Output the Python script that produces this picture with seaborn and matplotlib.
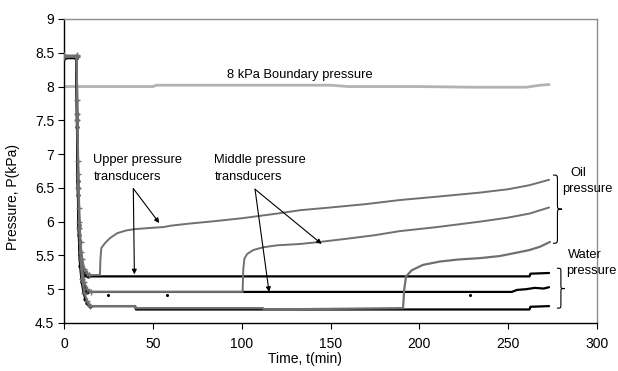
import matplotlib
matplotlib.use("Agg")
import matplotlib.pyplot as plt
import seaborn as sns
from matplotlib import font_manager
from matplotlib.path import Path
from matplotlib.patches import PathPatch

# ---------------- data (time in min, pressure in kPa) ----------------
boundary_t = [0, 50, 52, 100, 150, 160, 200, 230, 260, 268, 273]
boundary_p = [8.0, 8.0, 8.02, 8.02, 8.02, 8.0, 8.0, 7.99, 7.99, 8.02, 8.03]

upper_water_t = [0, 7.0, 7.3, 7.8, 8.3, 9.0, 10.0, 11.0, 12.0, 13.5, 262, 262.5, 273]
upper_water_p = [8.44, 8.44, 7.6, 6.6, 5.95, 5.5, 5.33, 5.25, 5.21, 5.19, 5.19, 5.23, 5.24]

middle_water_t = [0, 7.0, 7.3, 7.8, 8.3, 9, 10, 11, 12, 13, 252, 255, 260, 265, 270, 273]
middle_water_p = [8.43, 8.43, 7.5, 6.5, 5.9, 5.45, 5.2, 5.05, 4.98, 4.96, 4.96, 4.99, 5.0, 5.02, 5.01, 5.03]

lower_water_t = [0, 7.0, 7.3, 7.8, 8.3, 9, 10, 11, 12, 13, 14.5, 40, 40.5, 262, 262.5, 273]
lower_water_p = [8.42, 8.42, 7.4, 6.4, 5.8, 5.35, 5.1, 4.95, 4.85, 4.79, 4.75, 4.75, 4.70, 4.70, 4.74, 4.75]

upper_oil_t = [0, 7.1, 7.5, 8.0, 8.6, 9.3, 10.2, 11.5, 13, 14, 20.2, 20.5, 21, 23, 26, 30, 35,
               40, 50, 56, 60, 70, 82, 100, 120, 133, 150, 170, 189, 210, 234, 250, 262, 273]
upper_oil_p = [8.46, 8.46, 7.8, 6.9, 6.2, 5.7, 5.45, 5.3, 5.24, 5.21, 5.21, 5.45, 5.61, 5.68, 5.76,
               5.83, 5.87, 5.89, 5.91, 5.92, 5.94, 5.97, 6.0, 6.05, 6.12, 6.17, 6.21, 6.26, 6.32,
               6.37, 6.43, 6.48, 6.54, 6.62]

middle_oil_t = [0, 7.1, 7.5, 8.0, 8.6, 9.3, 10.2, 11.5, 13, 15, 100.5, 100.9, 101.5, 103, 106.5,
                112, 120, 133, 144, 160, 175, 189, 210, 234, 250, 262, 273]
middle_oil_p = [8.45, 8.45, 7.6, 6.7, 6.0, 5.55, 5.3, 5.1, 5.0, 4.96, 4.96, 5.3, 5.45, 5.52, 5.58,
                5.62, 5.65, 5.67, 5.70, 5.75, 5.80, 5.86, 5.92, 6.0, 6.06, 6.12, 6.21]

lower_oil_t = [0, 7.1, 7.5, 8, 8.6, 9.3, 10.2, 11.5, 13, 14.6, 40, 40.5, 112, 112.5, 190.8, 191.5,
               192.5, 195.7, 202, 211.6, 222, 234, 245, 252.7, 262, 268, 273.5]
lower_oil_p = [8.44, 8.44, 7.5, 6.5, 5.9, 5.45, 5.15, 4.95, 4.82, 4.75, 4.75, 4.72, 4.72, 4.70,
               4.72, 5.0, 5.19, 5.28, 5.36, 5.41, 5.44, 5.46, 5.49, 5.53, 5.58, 5.63, 5.70]

# isolated spikes in the logged readings
spike_t = [24.5, 58, 228.5]
spike_p = [4.92, 4.92, 4.91]

x_ticks = [0, 50, 100, 150, 200, 250, 300]
y_ticks = [4.5, 5, 5.5, 6, 6.5, 7, 7.5, 8, 8.5, 9]
y_tick_labels = ["4.5", "5", "5.5", "6", "6.5", "7", "7.5", "8", "8.5", "9"]

WATER = "#000000"
OIL = "#707070"
BOUND = "#b2b2b2"

# ---------------- style ----------------
sns.set_style("white")
plt.rcParams["font.family"] = ["Liberation Sans", "DejaVu Sans"]
plt.rcParams["text.color"] = "black"
plt.rcParams["axes.labelcolor"] = "black"

names = {f.name for f in font_manager.fontManager.ttflist}
narrow = "Liberation Sans Narrow" in names
tick_font = "Liberation Sans Narrow" if narrow else "Liberation Sans"
tick_size = 11.5 if narrow else 10

fig = plt.figure(figsize=(6.18, 3.71), dpi=100)
ax = fig.add_axes([0.1036, 0.1294, 0.8625, 0.8194])


def series(t, p, color, lw, marker, ms, n_mark, z):
    sns.lineplot(x=t, y=p, ax=ax, color=color, linewidth=lw, estimator=None, sort=False,
                 marker=marker, markersize=ms, markevery=slice(0, n_mark),
                 markeredgecolor=color, markerfacecolor=color, markeredgewidth=1.0,
                 zorder=z)


series(boundary_t, boundary_p, BOUND, 2.0, None, 0, 0, 2)
series(upper_water_t, upper_water_p, WATER, 1.6, ".", 4, 10, 3)
series(middle_water_t, middle_water_p, WATER, 1.6, ".", 4, 10, 3)
series(lower_water_t, lower_water_p, WATER, 1.6, ".", 4, 11, 3)
series(upper_oil_t, upper_oil_p, OIL, 1.4, "+", 5, 10, 4)
series(middle_oil_t, middle_oil_p, OIL, 1.4, "+", 5, 10, 4)
series(lower_oil_t, lower_oil_p, OIL, 1.6, "+", 5, 10, 4)
sns.scatterplot(x=spike_t, y=spike_p, ax=ax, color=WATER, s=5, linewidth=0, zorder=5)

# ---------------- axes ----------------
ax.set_xlim(0, 300)
ax.set_ylim(4.5, 9)
ax.set_xticks(x_ticks)
ax.set_yticks(y_ticks, labels=y_tick_labels)
for lab in ax.get_xticklabels() + ax.get_yticklabels():
    lab.set_fontfamily(tick_font)
    lab.set_fontsize(tick_size)
ax.tick_params(axis="both", which="both", bottom=True, left=True, direction="out",
               length=4, width=0.8, color="black", labelcolor="black")
ax.tick_params(axis="x", pad=6)
ax.tick_params(axis="y", pad=3)

for side in ("left", "bottom"):
    ax.spines[side].set_color("black")
    ax.spines[side].set_linewidth(1.0)
for side in ("top", "right"):
    ax.spines[side].set_color("#8c8c8c")
    ax.spines[side].set_linewidth(1.0)

ax.set_xlabel("Time, t(min)", fontsize=10, color="black")
ax.set_ylabel("Pressure, P(kPa)", fontsize=10, color="black")
ax.xaxis.set_label_coords(0.452, -0.095)
ax.yaxis.set_label_coords(-0.083, 0.414)

# ---------------- annotations ----------------
TXT = 9.3
ax.text(91.6, 8.13, "8 kPa Boundary pressure", fontsize=TXT, ha="left", va="baseline")
ax.text(16.5, 6.869, "Upper pressure", fontsize=TXT, ha="left", va="baseline")
ax.text(16.5, 6.621, "transducers", fontsize=TXT, ha="left", va="baseline")
ax.text(84.6, 6.869, "Middle pressure", fontsize=TXT, ha="left", va="baseline")
ax.text(84.6, 6.621, "transducers", fontsize=TXT, ha="left", va="baseline")

side_labels = [("Oil", 289.3, 6.672), ("pressure", 294.3, 6.44),
               ("Water", 293.2, 5.46), ("pressure", 296.6, 5.226)]
for s, x, y in side_labels:
    ax.text(x, y, s, fontsize=TXT, ha="center", va="baseline", clip_on=False, zorder=6)

arrow_kw = dict(arrowstyle="-|>", color="black", lw=0.8, mutation_scale=7,
                shrinkA=0, shrinkB=0)
for start, end in [((39, 6.49), (39.6, 5.22)), ((39, 6.49), (53.6, 5.98)),
                   ((107.5, 6.48), (115.4, 4.96)), ((107.5, 6.48), (145, 5.67))]:
    ax.annotate("", xy=end, xytext=start, arrowprops=arrow_kw, zorder=6)


def brace(x0, x1, ytop, ybot, ytip):
    xm = (x0 + x1) / 2
    r = (ytop - ybot) * 0.09
    verts = [(x0, ytop), (xm, ytop), (xm, ytop), (xm, ytop - r),
             (xm, ytip + r),
             (xm, ytip), (xm, ytip), (x1, ytip),
             (xm, ytip), (xm, ytip), (xm, ytip - r),
             (xm, ybot + r),
             (xm, ybot), (xm, ybot), (x0, ybot)]
    codes = [Path.MOVETO, Path.CURVE4, Path.CURVE4, Path.CURVE4,
             Path.LINETO,
             Path.CURVE4, Path.CURVE4, Path.CURVE4,
             Path.CURVE4, Path.CURVE4, Path.CURVE4,
             Path.LINETO,
             Path.CURVE4, Path.CURVE4, Path.CURVE4]
    ax.add_patch(PathPatch(Path(verts, codes), fill=False, lw=0.8, color="black",
                           clip_on=False, zorder=6))


brace(275.2, 280.2, 6.69, 5.68, 6.185)
brace(277.4, 281.9, 5.31, 4.72, 5.01)

fig.savefig("out.png", dpi=100)
